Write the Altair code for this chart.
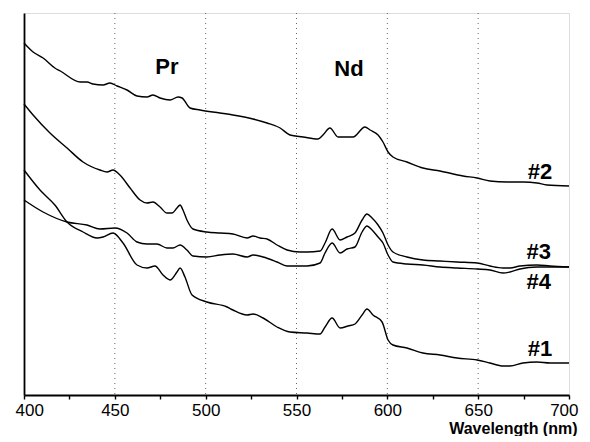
import altair as alt
import pandas as pd

# Wavelength (nm) and absorbance-like values (arbitrary units)
wl_2 = [400, 405, 410.5, 417, 420, 431, 434.7, 438, 443.5, 447.3, 451.2, 456.7, 462.2, 467.7, 471, 474.9,
        480.4, 484.8, 487, 491.4, 496.9, 507.9, 515, 526, 533.8, 541, 546.4, 553.6, 561.8, 564.6, 568.4,
        572.9, 581.1, 587.7, 590.5, 594.9, 597.6, 600.4, 603.1, 610.8, 619.6, 629, 641.7, 649.4, 656.5,
        665.9, 674.7, 682.4, 687.9, 700]
val_2 = [3.52, 3.43, 3.37, 3.27, 3.24, 3.13, 3.13, 3.11, 3.10, 3.12, 3.09, 3.05, 2.99, 2.98, 3.00, 2.97,
         2.95, 2.98, 2.97, 2.87, 2.85, 2.82, 2.80, 2.76, 2.72, 2.67, 2.60, 2.58, 2.56, 2.60, 2.67,
         2.58, 2.58, 2.68, 2.65, 2.60, 2.53, 2.43, 2.38, 2.33, 2.27, 2.24, 2.19, 2.17, 2.14,
         2.13, 2.13, 2.12, 2.10, 2.09]

wl_3 = [400, 405, 414.3, 423.7, 432.5, 441.8, 445.7, 449, 452.8, 458.4, 463.9, 467.7, 471, 474.9, 478.7,
        481.5, 484.2, 485.9, 487.5, 489.7, 493, 500.7, 507.9, 515, 522.8, 526.1, 529.9, 533.8, 539.3,
        544.8, 551.9, 555.8, 563, 565.7, 569.6, 574, 577.8, 582.2, 586.1, 588.8, 591.6, 594.9, 597.6,
        600.4, 603.1, 610.8, 619.6, 629, 638.4, 649.4, 656.5, 663.7, 667.5, 673, 682.4, 689.6, 700]
val_3 = [2.91, 2.80, 2.62, 2.47, 2.33, 2.25, 2.23, 2.25, 2.20, 2.07, 1.95, 1.92, 1.93, 1.88, 1.82,
         1.82, 1.87, 1.90, 1.85, 1.75, 1.66, 1.63, 1.62, 1.61, 1.57, 1.59, 1.57, 1.56, 1.50,
         1.45, 1.43, 1.43, 1.44, 1.52, 1.66, 1.55, 1.58, 1.62, 1.75, 1.81, 1.77, 1.70, 1.62,
         1.50, 1.43, 1.38, 1.35, 1.34, 1.33, 1.32, 1.29, 1.27, 1.27, 1.29, 1.30, 1.29, 1.28]

wl_4 = [400, 410.5, 423.7, 434.7, 441.8, 450.1, 456.7, 462.2, 467.7, 473.2, 478.7, 482, 485.9, 489.7,
        493, 500.7, 507.9, 515, 522.8, 526.1, 531.6, 539.3, 544.8, 551.9, 555.8, 563, 565.7, 569.6,
        574, 577.8, 582.2, 586.1, 588.8, 591.6, 594.9, 597.6, 600.4, 603.1, 610.8, 619.6, 629, 638.4,
        649.4, 656.5, 663.7, 667.5, 673, 682.4, 689.6, 700]
val_4 = [1.95, 1.83, 1.73, 1.70, 1.66, 1.67, 1.62, 1.53, 1.51, 1.51, 1.47, 1.47, 1.50, 1.45,
         1.39, 1.38, 1.40, 1.41, 1.38, 1.40, 1.38, 1.33, 1.29, 1.29, 1.29, 1.32, 1.42, 1.52,
         1.42, 1.46, 1.48, 1.63, 1.69, 1.65, 1.58, 1.52, 1.40, 1.33, 1.31, 1.30, 1.28, 1.27,
         1.26, 1.25, 1.22, 1.23, 1.26, 1.28, 1.28, 1.28]

wl_1 = [400, 408.8, 417, 423.7, 432.5, 440.2, 443.5, 449, 454.5, 462.2, 467.7, 472.1, 476.5, 480.4,
        484.2, 485.9, 488.6, 492.5, 500.7, 511.8, 515, 522.8, 526.1, 531.6, 539.3, 546.4, 555.8, 563,
        565.7, 569.6, 574, 578.4, 582.2, 586.1, 588.8, 592.1, 597.1, 600.4, 603.1, 610.8, 619.6, 629,
        638.4, 649.4, 656.5, 663.7, 667.5, 674.7, 682.4, 689.6, 700]
val_1 = [2.25, 2.05, 1.90, 1.73, 1.63, 1.57, 1.58, 1.62, 1.52, 1.30, 1.27, 1.29, 1.20, 1.15,
         1.23, 1.27, 1.18, 1.00, 0.93, 0.88, 0.85, 0.80, 0.81, 0.77, 0.68, 0.63, 0.62, 0.61,
         0.68, 0.77, 0.67, 0.69, 0.71, 0.80, 0.86, 0.80, 0.73, 0.55, 0.50, 0.47, 0.42, 0.40,
         0.37, 0.35, 0.32, 0.29, 0.29, 0.32, 0.33, 0.32, 0.32]

series_names = ["#1", "#2", "#3", "#4"]
grid_wl = [450, 500, 550, 600, 650]
tick_values = [400, 425, 450, 475, 500, 525, 550, 575, 600, 625, 650, 675, 700]

label_text = ["Pr", "Nd", "#2", "#3", "#4", "#1"]
label_wl = [478.7, 578.9, 684, 683.4, 683.4, 684]
label_val = [3.28, 3.26, 2.23, 1.43, 1.13, 0.46]

rows = []
for name, wl, val in zip(series_names, [wl_1, wl_2, wl_3, wl_4], [val_1, val_2, val_3, val_4]):
    for w, v in zip(wl, val):
        rows.append({"series": name, "wl": w, "val": v})
df = pd.DataFrame(rows)
grid_df = pd.DataFrame({"wl": grid_wl})
lab_df = pd.DataFrame({"text": label_text, "wl": label_wl, "val": label_val})

xscale = alt.Scale(domain=[400, 700], nice=False, zero=False)
yscale = alt.Scale(domain=[0, 3.82], nice=False, zero=False)

xaxis = alt.Axis(values=tick_values, labelExpr="datum.value % 50 == 0 ? datum.label : ''",
                 tickSize=4, tickColor="black", tickWidth=1.4, domainColor="black", domainWidth=1.8,
                 labelFont="Liberation Sans", labelFontSize=17, labelColor="black", labelPadding=3,
                 labelFlush=True, labelFlushOffset=9, grid=False, title="Wavelength (nm)",
                 titleFont="Liberation Sans", titleFontSize=16, titleFontWeight="bold", titleColor="black",
                 titleX=553, titleY=38, titleAlign="right", titleBaseline="alphabetic", titleAnchor="end")
yaxis = alt.Axis(labels=False, ticks=False, grid=False, title=None, domainColor="black", domainWidth=1.8)

grid = alt.Chart(grid_df).mark_rule(color="#666666", strokeDash=[1, 4], strokeWidth=1).encode(
    x=alt.X("wl:Q", scale=xscale, axis=xaxis),
)

lines = alt.Chart(df).mark_line(color="black", strokeWidth=1.4, interpolate="monotone").encode(
    x=alt.X("wl:Q", scale=xscale, axis=xaxis),
    y=alt.Y("val:Q", scale=yscale, axis=yaxis),
    detail="series:N",
)

labels = alt.Chart(lab_df).mark_text(font="Liberation Sans", fontSize=22, fontWeight="bold",
                                     color="black", align="center", baseline="middle").encode(
    x=alt.X("wl:Q", scale=xscale),
    y=alt.Y("val:Q", scale=yscale),
    text="text:N",
)

chart = alt.layer(grid, lines, labels).properties(
    width=545, height=382,
    autosize=alt.AutoSizeParams(type="none"),
    padding={"left": 16, "top": 5, "right": 13, "bottom": 41},
).configure_view(stroke=None).configure(background="white")

chart.save("out.html", embed_options={"renderer": "svg", "actions": False})
